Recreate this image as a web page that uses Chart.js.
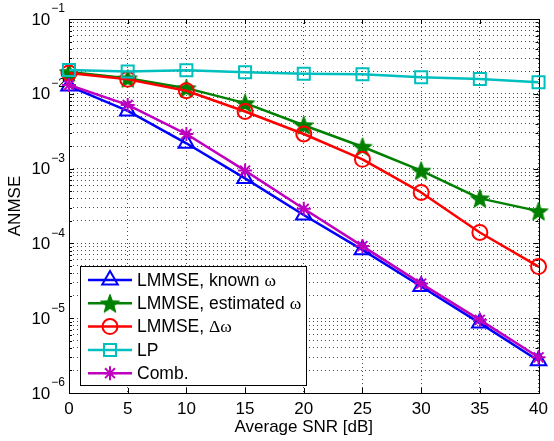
<!DOCTYPE html>
<html>
<head>
<meta charset="utf-8">
<script src="https://cdn.jsdelivr.net/npm/chart.js@4.4.1/dist/chart.umd.min.js"></script>
<style>
    html, body { margin: 0; padding: 0; background: #fff; }
    #wrap { width: 554px; height: 441px; }
</style>
</head>
<body>
<div id="wrap"><canvas id="anmseChart" width="554" height="441"></canvas></div>
<script>
// Values
const snrValues = [0, 5, 10, 15, 20, 25, 30, 35, 40];
const lmmseKnown = [0.0127, 0.0059, 0.00218, 0.00074, 0.00024, 0.000082, 0.0000265, 0.0000086, 0.0000027];
const lmmseEstimated = [0.0195, 0.0161, 0.0119, 0.0075, 0.0038, 0.00196, 0.00094, 0.0004, 0.00027];
const lmmseDelta = [0.019, 0.0156, 0.011, 0.0058, 0.0029, 0.00133, 0.00048, 0.00014, 0.000049];
const lpValues = [0.0208, 0.0198, 0.0207, 0.0194, 0.0185, 0.0183, 0.0166, 0.0158, 0.0143];
const combValues = [0.0131, 0.0071, 0.0029, 0.00094, 0.00029, 0.000092, 0.000029, 0.0000095, 0.000003];

const seriesNames = ['LMMSE, known \u03C9', 'LMMSE, estimated \u03C9', 'LMMSE, \u0394\u03C9', 'LP', 'Comb.'];
const yTickExponents = [-1, -2, -3, -4, -5, -6];
const minorSignificands = [1, 2, 3, 4, 5, 6, 7, 8, 9];

const SANS = "'Liberation Sans', Arial, Helvetica, sans-serif";
const SERIF = "'Liberation Serif', 'Times New Roman', serif";

// filled five point star, used as a canvas point style
function makeStar(r, color) {
    const size = Math.ceil(r * 2 + 4);
    const c = document.createElement('canvas');
    c.width = size;
    c.height = size;
    const g = c.getContext('2d');
    g.translate(size / 2, size / 2 + 1);
    g.beginPath();
    for (let i = 0; i < 10; i++) {
        const rad = i % 2 === 0 ? r : r * 0.42;
        const a = -Math.PI / 2 + i * Math.PI / 5;
        if (i === 0) g.moveTo(rad * Math.cos(a), rad * Math.sin(a));
        else g.lineTo(rad * Math.cos(a), rad * Math.sin(a));
    }
    g.closePath();
    g.fillStyle = color;
    g.fill();
    g.lineWidth = 1;
    g.strokeStyle = color;
    g.stroke();
    return c;
}

const greenStar = makeStar(10, '#008000');

function series(label, data, color, style, radius, fill, order) {
    return {
        label: label,
        data: data,
        borderColor: color,
        backgroundColor: color,
        borderWidth: 2.5,
        pointStyle: style,
        pointRadius: radius,
        pointHoverRadius: radius,
        pointBorderColor: color,
        pointBackgroundColor: fill ? color : 'rgba(0,0,0,0)',
        pointBorderWidth: 2,
        tension: 0,
        clip: false,
        order: order
    };
}

const datasets = [
    series(seriesNames[0], lmmseKnown, '#0000FF', 'triangle', 9, false, 5),
    series(seriesNames[1], lmmseEstimated, '#008000', greenStar, 10, true, 4),
    series(seriesNames[2], lmmseDelta, '#FF0000', 'circle', 7.5, false, 3),
    series(seriesNames[3], lpValues, '#00BFBF', 'rect', 8.5, false, 2),
    series(seriesNames[4], combValues, '#BF00BF', 'star', 7, false, 1)
];

// box + inward tick marks, matlab style
const framePlugin = {
    id: 'frame',
    beforeDatasetsDraw(chart) {
        const { ctx, chartArea: a, scales } = chart;
        ctx.save();
        ctx.strokeStyle = '#000';
        ctx.lineWidth = 1;
        ctx.beginPath();
        scales.x.ticks.forEach(t => {
            const x = Math.round(scales.x.getPixelForValue(t.value)) + 0.5;
            ctx.moveTo(x, a.bottom); ctx.lineTo(x, a.bottom - 5);
            ctx.moveTo(x, a.top); ctx.lineTo(x, a.top + 5);
        });
        scales.y.ticks.forEach(t => {
            const y = Math.round(scales.y.getPixelForValue(t.value)) + 0.5;
            const len = t.major ? 5 : 3;
            ctx.moveTo(a.left, y); ctx.lineTo(a.left + len, y);
            ctx.moveTo(a.right, y); ctx.lineTo(a.right - len, y);
        });
        ctx.stroke();
        ctx.strokeRect(Math.round(a.left) + 0.5, Math.round(a.top) + 0.5,
            Math.round(a.right - a.left), Math.round(a.bottom - a.top));
        ctx.restore();
    }
};

// 10^n labels with a raised exponent
const yLabelPlugin = {
    id: 'yLabels',
    afterDraw(chart) {
        const { ctx, scales } = chart;
        const y = scales.y;
        ctx.save();
        ctx.fillStyle = '#000';
        ctx.textBaseline = 'middle';
        yTickExponents.forEach(e => {
            const py = y.getPixelForValue(Math.pow(10, e));
            ctx.font = '12px ' + SANS;
            const expText = '\u2212' + Math.abs(e);
            const expW = ctx.measureText(expText).width;
            ctx.textAlign = 'left';
            const right = chart.chartArea.left - 4;
            ctx.fillText(expText, right - expW, py - 10);
            ctx.font = '17px ' + SANS;
            ctx.textAlign = 'right';
            ctx.fillText('10', right - expW - 1, py + 1);
        });
        ctx.restore();
    }
};

// draw a label, greek letters in a serif face
function drawMixedText(ctx, text, x, y, size) {
    let cx = x;
    for (const ch of text) {
        const greek = /[\u0370-\u03FF]/.test(ch);
        ctx.font = size + 'px ' + (greek ? SERIF : SANS);
        ctx.fillText(ch, cx, y);
        cx += ctx.measureText(ch).width;
    }
}

const legendPlugin = {
    id: 'boxLegend',
    afterDraw(chart) {
        const { ctx, chartArea: a } = chart;
        const box = { x: a.left + 11, y: 266, w: 226, h: 119 };
        ctx.save();
        ctx.fillStyle = '#fff';
        ctx.fillRect(box.x, box.y, box.w, box.h);
        ctx.strokeStyle = '#000';
        ctx.lineWidth = 1;
        ctx.strokeRect(box.x + 0.5, box.y + 0.5, box.w, box.h);
        chart.data.datasets.forEach((ds, i) => {
            const cy = box.y + 14 + i * 23.3;
            ctx.strokeStyle = ds.borderColor;
            ctx.lineWidth = ds.borderWidth;
            ctx.beginPath();
            ctx.moveTo(box.x + 8, cy);
            ctx.lineTo(box.x + 52, cy);
            ctx.stroke();
            ctx.fillStyle = ds.pointBackgroundColor;
            ctx.strokeStyle = ds.pointBorderColor;
            ctx.lineWidth = ds.pointBorderWidth;
            Chart.helpers.drawPoint(ctx, {
                pointStyle: ds.pointStyle,
                radius: ds.pointRadius,
                borderWidth: ds.pointBorderWidth,
                rotation: 0
            }, box.x + 30, cy);
            ctx.fillStyle = '#000';
            ctx.textBaseline = 'middle';
            ctx.textAlign = 'left';
            drawMixedText(ctx, ds.label, box.x + 57, cy + 1, 17.5);
        });
        ctx.restore();
    }
};

const gridDash = { display: false, dash: [1, 3] };

new Chart(document.getElementById('anmseChart'), {
    type: 'line',
    data: { labels: snrValues, datasets: datasets },
    plugins: [framePlugin, yLabelPlugin, legendPlugin],
    options: {
        responsive: false,
        animation: false,
        devicePixelRatio: 1,
        layout: { padding: { top: 19, right: 10, left: 0, bottom: 0 } },
        plugins: { legend: { display: false }, tooltip: { enabled: false } },
        elements: { line: { borderJoinStyle: 'round' } },
        scales: {
            x: {
                type: 'linear',
                min: 0,
                max: 40,
                afterFit: s => { s.height = 48; },
                ticks: {
                    stepSize: 5,
                    color: '#000',
                    padding: 6,
                    font: { family: SANS, size: 17 }
                },
                grid: { color: 'rgba(0,0,0,0.7)', lineWidth: 1, drawTicks: false },
                border: gridDash,
                title: {
                    display: true,
                    text: 'Average SNR [dB]',
                    color: '#000',
                    font: { family: SANS, size: 17 },
                    padding: { top: 0, bottom: 3 }
                }
            },
            y: {
                type: 'logarithmic',
                min: 1e-6,
                max: 1e-1,
                afterFit: s => { s.width = 69; },
                afterBuildTicks: s => {
                    const ticks = [];
                    yTickExponents.slice().reverse().forEach(e => {
                        minorSignificands.forEach(m => {
                            const v = m * Math.pow(10, e);
                            if (v <= 1e-1 * 1.0001) ticks.push({ value: v, major: m === 1 });
                        });
                    });
                    s.ticks = ticks;
                },
                ticks: { callback: () => '', autoSkip: false },
                grid: { color: 'rgba(0,0,0,0.7)', lineWidth: 1, drawTicks: false },
                border: gridDash,
                title: {
                    display: true,
                    text: 'ANMSE',
                    color: '#000',
                    font: { family: SANS, size: 17 },
                    padding: { top: 5, bottom: 0 }
                }
            }
        }
    }
});
</script>
</body>
</html>
